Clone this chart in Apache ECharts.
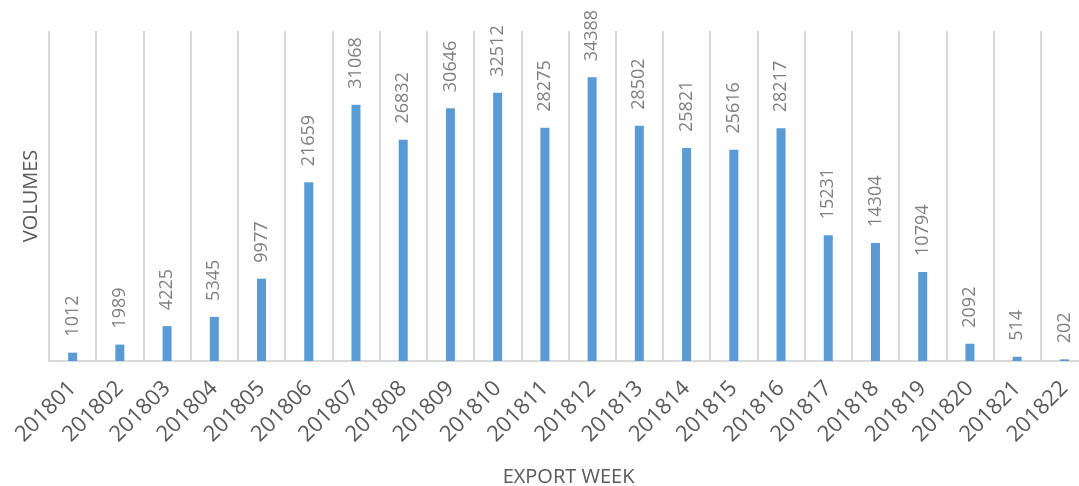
<!DOCTYPE html>
<html>
<head>
<meta charset="utf-8">
<script src="https://cdn.jsdelivr.net/npm/echarts@6/dist/echarts.min.js"></script>
<style>html,body{margin:0;padding:0;background:#fff;}#c{width:1079px;height:486px;}</style>
</head>
<body>
<div id="c"></div>
<script>
const weeks = ['201801','201802','201803','201804','201805','201806','201807','201808','201809','201810','201811','201812','201813','201814','201815','201816','201817','201818','201819','201820','201821','201822'];
const volumes = [1012,1989,4225,5345,9977,21659,31068,26832,30646,32512,28275,34388,28502,25821,25616,28217,15231,14304,10794,2092,514,202];
const yAxisMax = 40000;

const chart = echarts.init(document.getElementById('c'));
chart.setOption({
  animation: false,
  textStyle: { fontFamily: 'Open Sans' },
  grid: { left: 49, right: -9, top: 31, bottom: 125, containLabel: false, outerBoundsMode: 'none' },
  xAxis: {
    type: 'category',
    data: weeks,
    name: 'EXPORT WEEK',
    nameLocation: 'middle',
    nameGap: 106,
    nameTextStyle: { color: '#595959', fontSize: 20, fontFamily: 'Open Sans' },
    axisLine: { show: true, lineStyle: { color: '#d9d9d9', width: 2 } },
    axisTick: { show: false },
    axisLabel: { rotate: 45, interval: 0, color: '#595959', fontSize: 22, margin: 24, fontFamily: 'Open Sans' },
    splitLine: { show: true, interval: 0, lineStyle: { color: '#d9d9d9', width: 2 } }
  },
  yAxis: {
    type: 'value',
    min: 0,
    max: yAxisMax,
    name: 'VOLUMES',
    nameLocation: 'middle',
    nameGap: 8,
    nameTextStyle: { color: '#595959', fontSize: 20, fontFamily: 'Open Sans' },
    axisLine: { show: false },
    axisTick: { show: false },
    axisLabel: { show: false },
    splitLine: { show: false }
  },
  series: [{
    type: 'bar',
    data: volumes,
    barWidth: 9,
    itemStyle: { color: '#5b9bd5' },
    label: {
      show: true,
      position: 'top',
      rotate: 90,
      align: 'left',
      verticalAlign: 'middle',
      distance: 16,
      color: '#7f7f7f',
      fontSize: 18,
      fontFamily: 'Open Sans'
    }
  }]
});
</script>
</body>
</html>
